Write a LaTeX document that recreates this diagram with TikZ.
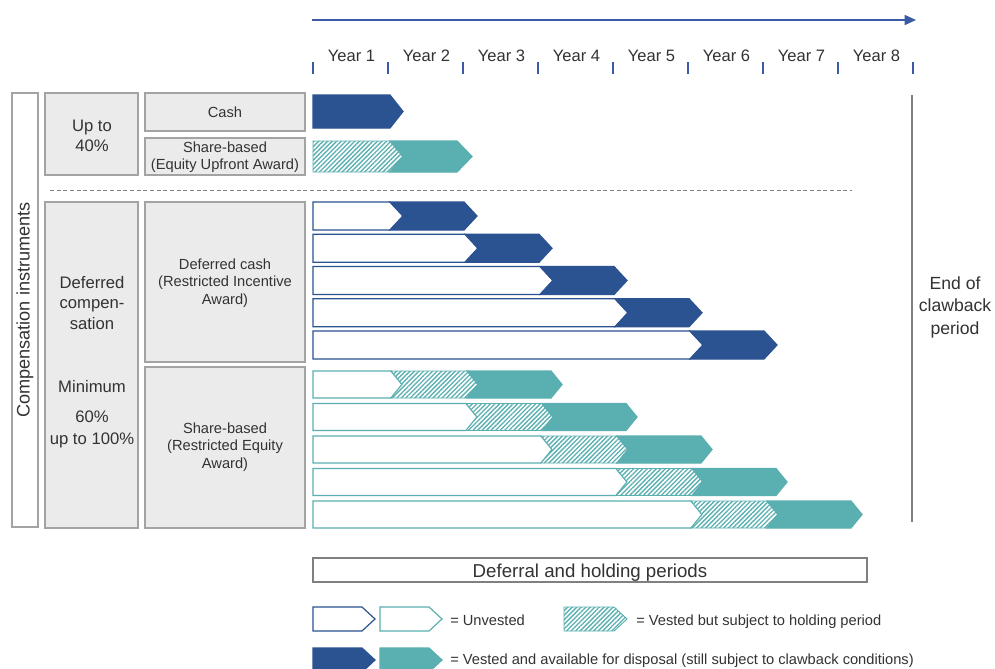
\documentclass[tikz,border=0pt]{standalone}
\usepackage{fontspec}
\setmainfont{Liberation Sans}
\usetikzlibrary{patterns.meta,arrows.meta}
\definecolor{dblue}{HTML}{2B5291}
\definecolor{myteal}{HTML}{5AAFB0}
\definecolor{boxfill}{HTML}{EBEBEB}
\definecolor{boxline}{HTML}{A3A3A3}
\definecolor{txt}{HTML}{333333}
\definecolor{axisblue}{HTML}{3A5AA5}
\definecolor{endgray}{HTML}{808080}
% flat-left chevron: style, x1, x2, ytop, ybot, tip depth
\newcommand{\flatseg}[6]{\path[#1] (#2,#4) -- (#3,#4) -- ({#3+#6},{(#4+#5)/2}) -- (#3,#5) -- (#2,#5) -- cycle;}
% notched chevron: style, x1, x2, ytop, ybot, notch depth, tip depth
\newcommand{\notchseg}[7]{\path[#1] (#2,#4) -- (#3,#4) -- ({#3+#7},{(#4+#5)/2}) -- (#3,#5) -- (#2,#5) -- ({#2+#6},{(#4+#5)/2}) -- cycle;}
\tikzset{
  gbox/.style={fill=boxfill, draw=boxline, line width=1.1pt},
  wbox/.style={fill=white, draw=boxline, line width=1.1pt},
  txtnode/.style={text=txt, inner sep=0pt, align=center},
  yearlbl/.style={txtnode, font=\fontsize{12.4}{14}\selectfont},
  boxtxt/.style={txtnode, font=\fontsize{11}{13.1}\selectfont},
  bigtxt/.style={txtnode, font=\fontsize{12.5}{15.2}\selectfont},
  legtxt/.style={txtnode, anchor=base west, font=\fontsize{11}{13}\selectfont},
  bluefill/.style={fill=dblue, draw=dblue, line width=0.9pt},
  blueout/.style={fill=white, draw=dblue, line width=0.9pt},
  tealfill/.style={fill=myteal, draw=myteal, line width=0.9pt},
  tealout/.style={fill=white, draw=myteal, line width=0.9pt},
  hatch/.style={preaction={fill=white}, pattern={Lines[angle=45,distance=2.4pt,line width=1pt]}, pattern color=myteal, draw=myteal, line width=0.7pt},
  timeline/.style={draw=axisblue, line width=1.1pt, -{Triangle[length=8.5pt,width=7.5pt]}},
  tickmark/.style={draw=axisblue, line width=0.9pt},
  dashline/.style={draw=endgray, line width=0.7pt, dash pattern=on 3pt off 2pt},
  endline/.style={draw=endgray, line width=2.2pt},
  periodbox/.style={fill=white, draw=endgray, line width=0.9pt}
}
\begin{document}
\begin{tikzpicture}[x=0.75pt,y=-0.75pt]
\useasboundingbox (0,0) rectangle (995,668);
\clip (0,0) rectangle (995,668);
\fill[white] (0,0) rectangle (995,668);

% timeline
\coordinate (tl0) at (312,20);
\coordinate (tl1) at (916,20);
\draw[timeline] (tl0) -- (tl1);
\foreach \i in {0,...,8} \draw[tickmark] ({313+75*\i},62) -- ({313+75*\i},74);
\foreach \i in {1,...,8} \node[yearlbl] (year\i) at ({313+75*\i-37.5+1},56) {Year \i};

% left boxes
\draw[wbox] (12,93) rectangle (38,527);
\node[txtnode, rotate=90, font=\fontsize{13.6}{15}\selectfont] (comp) at (25,310) {Compensation instruments};

\draw[gbox] (45,93) rectangle (138,175);
\node[bigtxt] (upto) at (92,136) {Up to\\40\%};
\draw[gbox] (145,93) rectangle (305,131);
\node[boxtxt] (cash) at (225,112) {Cash};
\draw[gbox] (145,138) rectangle (305,175);
\node[boxtxt] (eua) at (225,157) {Share-based\\(Equity Upfront Award)};

\draw[dashline] (50,190) -- (852,190);

\draw[gbox] (45,202) rectangle (138,528);
\node[bigtxt] (defcomp) at (92,303) {Deferred\\compen-\\sation};
\node[bigtxt] (minimum) at (92,387) {Minimum};
\node[bigtxt, font=\fontsize{12.5}{16.5}\selectfont] (pct) at (92,429) {60\%\\up to 100\%};
\draw[gbox] (145,202) rectangle (305,362);
\node[boxtxt] (ria) at (225,283) {Deferred cash\\(Restricted Incentive\\Award)};
\draw[gbox] (145,367) rectangle (305,528);
\node[boxtxt] (rea) at (225,447) {Share-based\\(Restricted Equity\\Award)};

% upfront bars
\flatseg{bluefill}{313}{390}{95}{128}{13}
\flatseg{hatch}{313}{390}{141}{172}{13}
\notchseg{tealfill}{390}{457}{141}{172}{13}{15}

% deferred cash bars
\foreach \k in {1,...,5}{
  \pgfmathsetmacro\yt{202+32.25*(\k-1)}
  \pgfmathsetmacro\yb{\yt+28}
  \pgfmathsetmacro\xs{313+75*\k+2}
  \pgfmathsetmacro\xe{313+75*(\k+1)+1}
  \flatseg{blueout}{313}{\xs}{\yt}{\yb}{13}
  \notchseg{bluefill}{\xs}{\xe}{\yt}{\yb}{13}{13}
}

% restricted equity bars
\foreach \k in {1,...,5}{
  \pgfmathsetmacro\yt{371+32.5*(\k-1)}
  \pgfmathsetmacro\yb{\yt+27}
  \pgfmathsetmacro\xs{313+75*\k+3}
  \pgfmathsetmacro\xh{313+75*(\k+1)+4}
  \pgfmathsetmacro\xe{313+75*(\k+2)+13}
  \flatseg{tealout}{313}{\xs}{\yt}{\yb}{11}
  \notchseg{hatch}{\xs}{\xh}{\yt}{\yb}{11}{11}
  \notchseg{tealfill}{\xh}{\xe}{\yt}{\yb}{11}{11}
}

% end of clawback
\draw[endline] (912,95) -- (912,522);
\node[txtnode, font=\fontsize{13.2}{16.9}\selectfont] (eoc) at (955,307) {End of\\clawback\\period};

% deferral box
\draw[periodbox] (313,558) rectangle (867,582);
\node[txtnode, anchor=base, font=\fontsize{14}{16}\selectfont] (dhp) at (590,577) {Deferral and holding periods};

% legend
\flatseg{blueout}{313}{362}{607}{631}{13}
\flatseg{tealout}{380}{429}{607}{631}{13}
\node[legtxt] (lunv) at (450,625) {= Unvested};
\flatseg{hatch}{564}{614}{607}{631}{13}
\node[legtxt] (lhold) at (636,625) {= Vested but subject to holding period};
\flatseg{bluefill}{313}{362}{648}{672}{13}
\flatseg{tealfill}{380}{429}{648}{672}{13}
\node[legtxt] (lvest) at (450,664) {= Vested and available for disposal (still subject to clawback conditions)};
\end{tikzpicture}
\end{document}
